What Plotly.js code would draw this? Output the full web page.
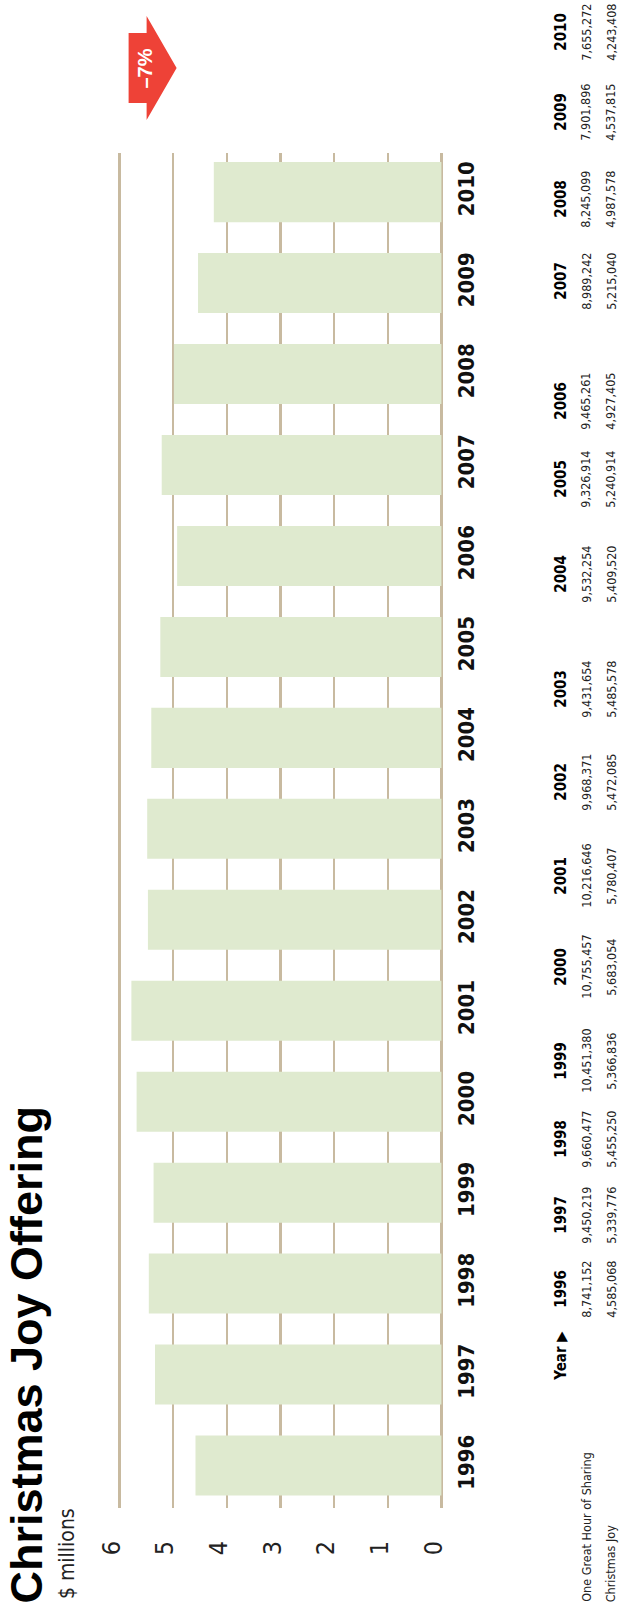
<!DOCTYPE html>
<html>
<head>
<meta charset="utf-8">
<script src="https://cdn.plot.ly/plotly-3.0.1.min.js"></script>
<style>
html,body{margin:0;padding:0;background:#ffffff;}
#chart{width:623px;height:1604px;}
</style>
</head>
<body>
<div id="chart"></div>
<script>
// ---------------- data ----------------
const years = ['1996','1997','1998','1999','2000','2001','2002','2003','2004','2005','2006','2007','2008','2009','2010'];
const christmasJoy = [4585068, 5339776, 5455250, 5366836, 5683054, 5780407, 5472085, 5485578, 5409520, 5240914, 4927405, 5215040, 4987578, 4537815, 4243408];
const greatHour = [8741152, 9450219, 9660477, 10451380, 10755457, 10216646, 9968371, 9431654, 9532254, 9326914, 9465261, 8989242, 8245099, 7901896, 7655272];
const valueTicks = [0, 1, 2, 3, 4, 5, 6];
const valueTickLabels = ['0', '1', '2', '3', '4', '5', '6'];
const titleText = 'Christmas Joy Offering';
const unitText = '$ millions';
const headerLabel = 'Year \u25B6';
const rowLabels = ['One Great Hour of Sharing', 'Christmas Joy'];

// ---------------- layout helpers (pixels) ----------------
const W = 623, H = 1604;
const M = {l: 118.4, r: 179.7, t: 153, b: 96};
const PW = W - M.l - M.r, PH = H - M.t - M.b;
const px = p => (p - M.l) / PW;
const py = p => (H - M.b - p) / PH;

const NARROW = 'Liberation Sans Narrow, DejaVu Sans Condensed, Liberation Sans, sans-serif';
const BOLD = 'Liberation Sans, Arial, sans-serif';

// table column centres (along the page height), px
const colCenter = [1289, 1215, 1139, 1061, 967, 876, 782, 689, 574, 479, 401, 281, 199, 112, 32];
const headerX = 561, row1X = 586, row2X = 611;

const fmt = v => v.toLocaleString('en-US');
const first = christmasJoy[0], last = christmasJoy[christmasJoy.length - 1];
const changeText = '\u2013' + Math.abs(Math.round((last - first) / first * 100)) + '%';

const annotations = [];
function rot(text, x, y, font, anchor) {
  annotations.push({
    text: text, xref: 'paper', yref: 'paper', x: px(x), y: py(y),
    xanchor: 'center', yanchor: anchor || 'bottom', textangle: -90,
    showarrow: false, font: font, borderpad: 0
  });
}

// title + unit
rot('<b>' + titleText + '</b>', 26, 1605, {family: BOLD, size: 45, color: '#000'});
rot(unitText, 67, 1600, {family: NARROW, size: 21, color: '#222'});

// table
rot('<b>' + headerLabel + '</b>', headerX, 1356, {family: NARROW, size: 15, color: '#000'}, 'middle');
rot(rowLabels[0], row1X, 1603, {family: NARROW, size: 12.5, color: '#222'});
rot(rowLabels[1], row2X, 1603, {family: NARROW, size: 12.5, color: '#222'});
years.forEach((yr, i) => {
  rot('<b>' + yr + '</b>', headerX, colCenter[i], {family: NARROW, size: 15, color: '#000'}, 'middle');
  rot(fmt(greatHour[i]), row1X, colCenter[i], {family: NARROW, size: 12.5, color: '#222'}, 'middle');
  rot(fmt(christmasJoy[i]), row2X, colCenter[i], {family: NARROW, size: 12.5, color: '#222'}, 'middle');
});

// change arrow label
annotations.push({
  text: '<b>' + changeText + '</b>', xref: 'paper', yref: 'paper',
  x: px(145), y: py(69), xanchor: 'center', yanchor: 'middle', textangle: -90,
  showarrow: false, font: {family: BOLD, size: 20, color: '#ffffff'}
});

const arrowPts = [[129,33],[147,33],[147,16],[177,68],[147,120],[147,103],[129,103]];
const arrowPath = 'M' + arrowPts.map(p => px(p[0]).toFixed(5) + ',' + py(p[1]).toFixed(5)).join(' L') + ' Z';

const trace = {
  type: 'bar', orientation: 'h',
  y: years,
  x: christmasJoy.map(v => v / 1e6),
  marker: {color: '#dfeacf', line: {width: 0}},
  hoverinfo: 'skip'
};

const layout = {
  width: W, height: H,
  margin: {l: M.l, r: M.r, t: M.t, b: M.b, pad: 0},
  paper_bgcolor: '#ffffff', plot_bgcolor: '#ffffff',
  showlegend: false,
  bargap: 0.34,
  xaxis: {
    range: [6.03, -0.03], tickvals: valueTicks, ticktext: valueTickLabels,
    showgrid: true, gridcolor: '#c8baa0', gridwidth: 2.5,
    zeroline: false, showline: false, ticks: '',
    tickangle: -90, side: 'bottom', ticklabelstandoff: 27, ticklabelshift: 8,
    tickfont: {family: NARROW, size: 25, color: '#222'},
    fixedrange: true, automargin: false
  },
  yaxis: {
    type: 'category', range: [-0.467, 14.43],
    side: 'right', showgrid: false, zeroline: false, showline: false, ticks: '',
    tickangle: -90, ticklabelstandoff: 8,
    tickfont: {family: NARROW, size: 22, color: '#111', weight: 'bold'},
    fixedrange: true, automargin: false
  },
  shapes: [{
    type: 'path', xref: 'paper', yref: 'paper', path: arrowPath,
    fillcolor: '#ee4237', line: {width: 0}, layer: 'above'
  }],
  annotations: annotations
};

Plotly.newPlot('chart', [trace], layout, {displayModeBar: false, staticPlot: true});
</script>
</body>
</html>
